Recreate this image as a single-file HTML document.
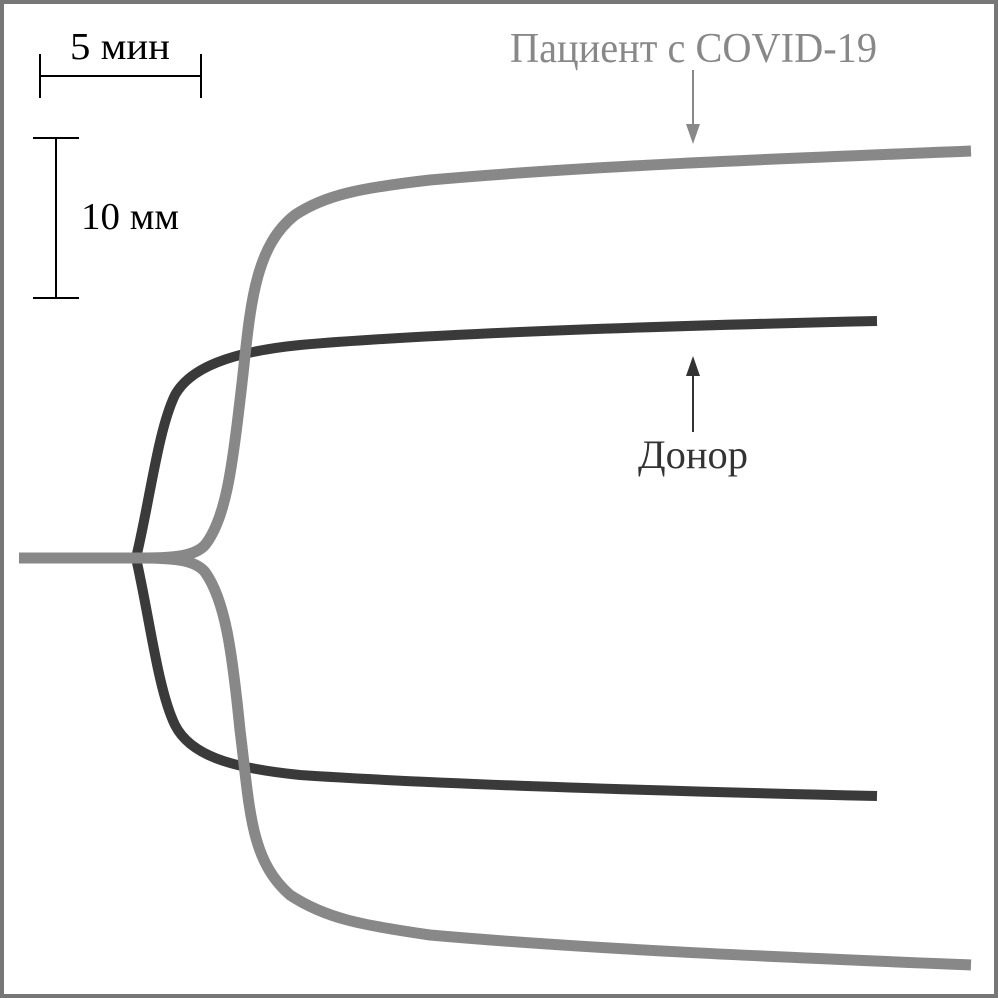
<!DOCTYPE html>
<html><head><meta charset="utf-8"><style>
html,body{margin:0;padding:0;background:#fff}
svg{display:block}
</style></head><body>
<svg width="998" height="998" viewBox="0 0 998 998" xmlns="http://www.w3.org/2000/svg" font-family="Liberation Serif, DejaVu Serif, serif">
<rect x="2" y="2" width="994" height="994" fill="#fff" stroke="#777" stroke-width="4"/>
<g stroke="#000" stroke-width="2" fill="none">
<line x1="40" y1="76" x2="201" y2="76"/>
<line x1="40" y1="54" x2="40" y2="98"/>
<line x1="201" y1="54" x2="201" y2="98"/>
<line x1="56" y1="138" x2="56" y2="298"/>
<line x1="33" y1="138" x2="79" y2="138"/>
<line x1="33" y1="298" x2="79" y2="298"/>
</g>
<text x="70" y="59" font-family="Liberation Serif, serif" font-size="38" fill="#000" textLength="100" lengthAdjust="spacingAndGlyphs">5 мин</text>
<text x="81" y="229" font-family="Liberation Serif, serif" font-size="38" fill="#000" textLength="98" lengthAdjust="spacingAndGlyphs">10 мм</text>
<text x="510" y="62" font-family="Liberation Serif, serif" font-size="42" fill="#888" textLength="367" lengthAdjust="spacingAndGlyphs">Пациент с COVID-19</text>
<text x="638" y="468" font-family="Liberation Serif, serif" font-size="40" fill="#333" textLength="110" lengthAdjust="spacingAndGlyphs">Донор</text>
<line x1="693" y1="70" x2="693" y2="128" stroke="#888" stroke-width="2"/>
<polygon points="686,124 700,124 693,144" fill="#888"/>
<line x1="693" y1="372" x2="693" y2="432" stroke="#333" stroke-width="2"/>
<polygon points="686,376 700,376 693,356" fill="#333"/>
<g fill="none" stroke="#3a3a3a" stroke-width="10">
<path d="M877,321 C700,325 450,332 300,345 C230,352 190,368 175,395 C158,430 150,500 136,558"/>
<path d="M877,796 C700,792 450,785 300,775 C230,768 190,755 175,725 C158,690 150,620 136,558"/>
</g>
<g fill="none" stroke="#888" stroke-width="11">
<path d="M19,558 L140,558 C175,558 195,556 205,545 C225,520 232,470 240,400 C250,320 250,250 295,215 C325,195 360,188 430,180 C600,165 800,158 971,151"/>
<path d="M140,558 C175,558 195,560 205,572 C225,600 232,650 240,730 C250,810 250,860 290,895 C325,918 360,925 430,935 C600,950 800,958 971,965"/>
</g>
</svg>
</body></html>
